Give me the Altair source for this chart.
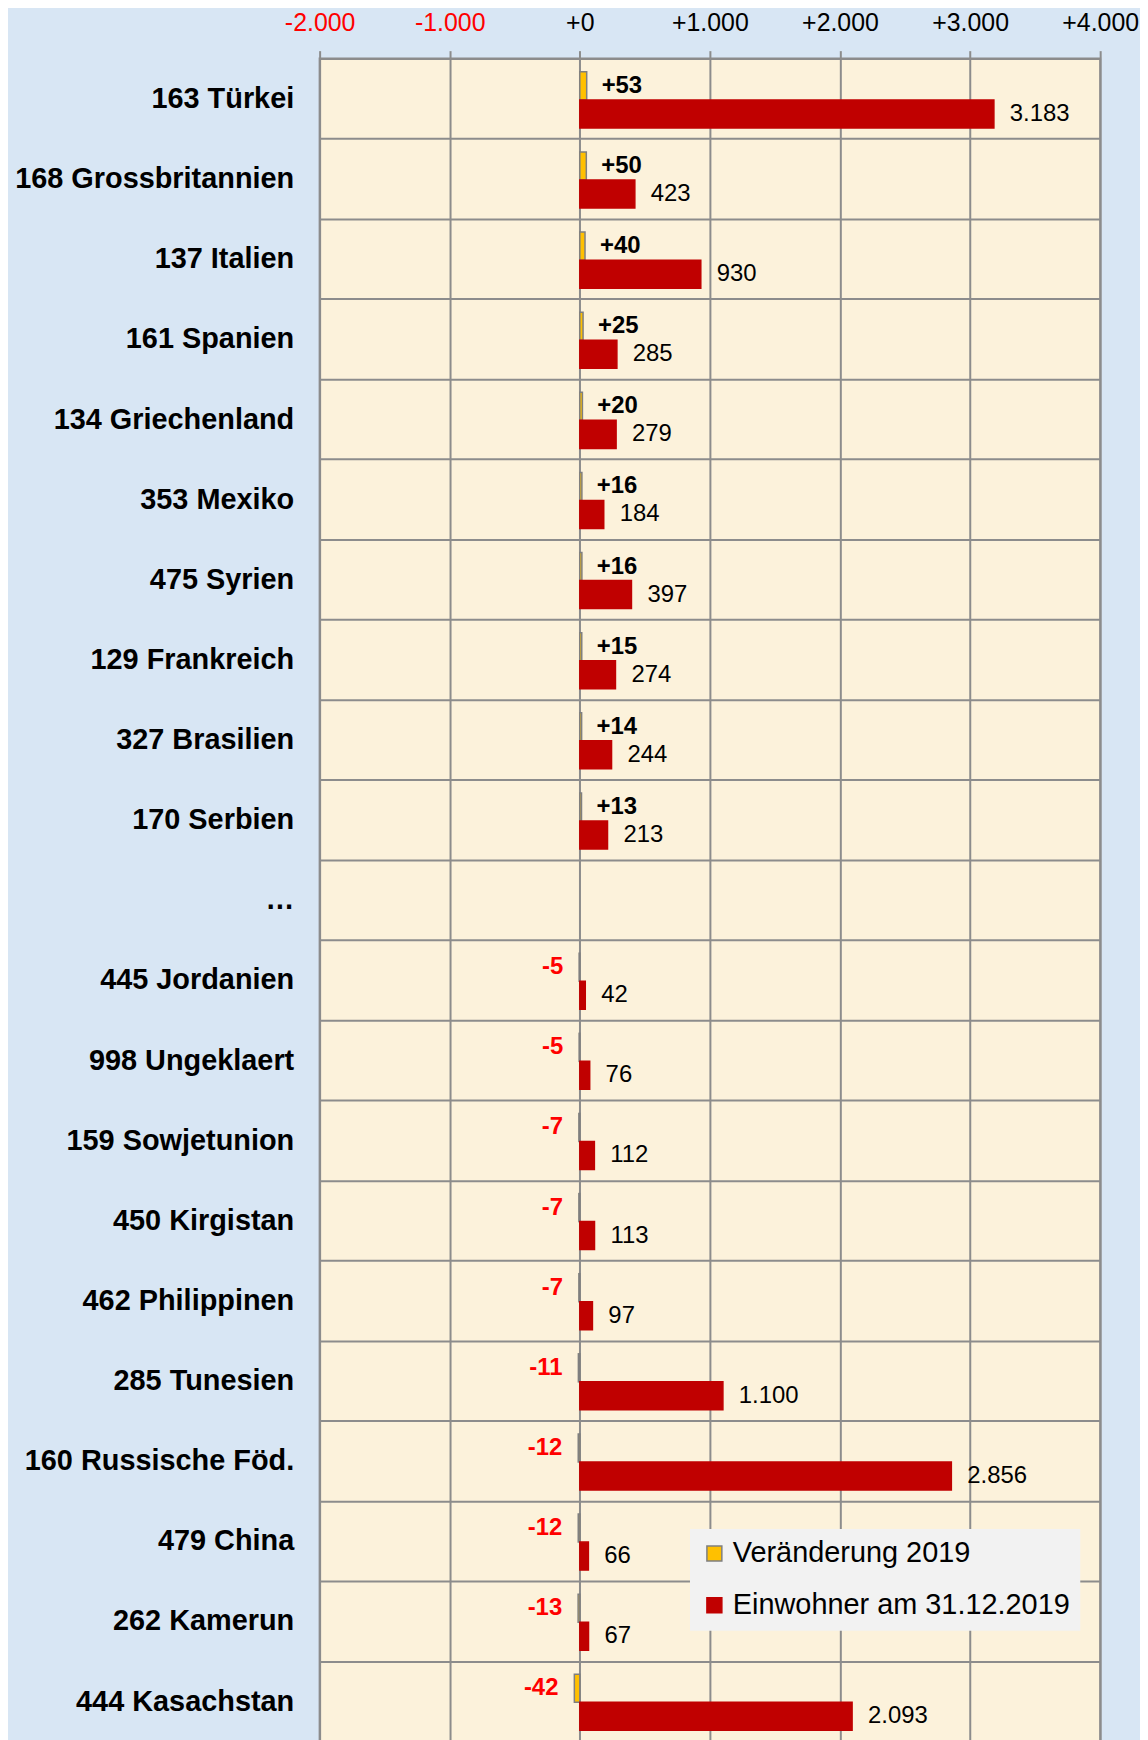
import altair as alt
import pandas as pd

rows = ["163 Türkei", "168 Grossbritannien", "137 Italien", "161 Spanien",
        "134 Griechenland", "353 Mexiko", "475 Syrien", "129 Frankreich",
        "327 Brasilien", "170 Serbien", "…", "445 Jordanien", "998 Ungeklaert",
        "159 Sowjetunion", "450 Kirgistan", "462 Philippinen", "285 Tunesien",
        "160 Russische Föd.", "479 China", "262 Kamerun", "444 Kasachstan"]
change = [53, 50, 40, 25, 20, 16, 16, 15, 14, 13, None, -5, -5, -7, -7, -7,
          -11, -12, -12, -13, -42]
population = [3183, 423, 930, 285, 279, 184, 397, 274, 244, 213, None, 42, 76,
              112, 113, 97, 1100, 2856, 66, 67, 2093]
series = ["Veränderung 2019", "Einwohner am 31.12.2019"]
x_ticks = [-2000, -1000, 0, 1000, 2000, 3000, 4000]


def de_num(v):
    return f"{abs(v):,}".replace(",", ".")


recs = []
for r, c, p in zip(rows, change, population):
    if c is None:
        continue
    recs.append({"row": r, "series": series[0], "value": c,
                 "label": ("+" if c > 0 else "-") + de_num(c)})
    recs.append({"row": r, "series": series[1], "value": p,
                 "label": de_num(p)})
df = pd.DataFrame(recs)

FONT = "Liberation Sans"
GRID = "#8c8c8c"

x_enc = alt.X(
    "value:Q",
    scale=alt.Scale(domain=[-2000, 4000], nice=False, zero=False),
    axis=alt.Axis(
        orient="top", values=x_ticks, title=None, grid=True,
        gridColor=GRID, gridWidth=2, domain=False,
        ticks=True, tickSize=8, tickColor=GRID, tickWidth=2,
        labelFont=FONT, labelFontSize=25, labelPadding=15,
        labelFlush=False, labelOverlap=False, labelBound=False,
        labelExpr="(datum.value < 0 ? '-' : '+') + replace(format(abs(datum.value), ','), regexp(',', 'g'), '.')",
        labelColor={"condition": {"test": "datum.value < 0", "value": "#ff0000"}, "value": "#000000"},
    ),
)
y_enc = alt.Y(
    "row:N",
    scale=alt.Scale(domain=rows, paddingInner=0, paddingOuter=0),
    axis=alt.Axis(
        title=None, grid=True, gridColor=GRID, gridWidth=2, tickBand="extent",
        ticks=False, domain=False, labelFont=FONT, labelFontSize=29,
        labelFontWeight="bold", labelColor="#000000", labelPadding=26,
        labelLimit=400,
    ),
)
yoff = alt.YOffset(
    "series:N",
    scale=alt.Scale(domain=series, paddingInner=0, paddingOuter=0.43, align=0.55),
)

bars = alt.Chart(df).mark_bar(strokeWidth=1.5).encode(
    x=x_enc, y=y_enc, yOffset=yoff,
    color=alt.Color("series:N", scale=alt.Scale(domain=series, range=["#ffc000", "#c00000"]),
                    legend=alt.Legend(title=None)),
    stroke=alt.Stroke("series:N", scale=alt.Scale(domain=series, range=["#7f7f7f", "#c00000"]),
                      legend=alt.Legend(title=None)),
)

chg = df[df["series"] == series[0]]
pop = df[df["series"] == series[1]]

pos_text = alt.Chart(chg[chg["value"] > 0]).mark_text(
    align="left", baseline="middle", dx=15, font=FONT, fontSize=24,
    fontWeight="bold", color="#000000",
).encode(x=x_enc, y=y_enc, yOffset=yoff, text="label:N")

neg_text = alt.Chart(chg[chg["value"] < 0]).mark_text(
    align="right", baseline="middle", dx=-16, font=FONT, fontSize=24,
    fontWeight="bold", color="#ff0000",
).encode(x=x_enc, y=y_enc, yOffset=yoff, text="label:N")

pop_text = alt.Chart(pop).mark_text(
    align="left", baseline="middle", dx=16, font=FONT, fontSize=24,
    color="#000000",
).encode(x=x_enc, y=y_enc, yOffset=yoff, text="label:N")

chart = alt.layer(bars, pos_text, neg_text, pop_text).properties(
    width=784, height=1690,
    background="#d8e6f4",
    autosize=alt.AutoSizeParams(type="none"),
    padding={"left": 313, "top": 47, "right": 40, "bottom": 0},
).configure_view(
    fill="#fcf2db", stroke=GRID, strokeWidth=2,
).configure_legend(
    orient="none", legendX=372, legendY=1477, fillColor="#f2f2f2",
    padding=10, labelFont=FONT, labelFontSize=29, labelColor="#000000",
    symbolType="square", symbolSize=225, rowPadding=22, labelOffset=4,
    symbolStrokeWidth=1.5, labelLimit=500,
)

chart.save("out.html", embed_options={"renderer": "svg", "actions": False})
